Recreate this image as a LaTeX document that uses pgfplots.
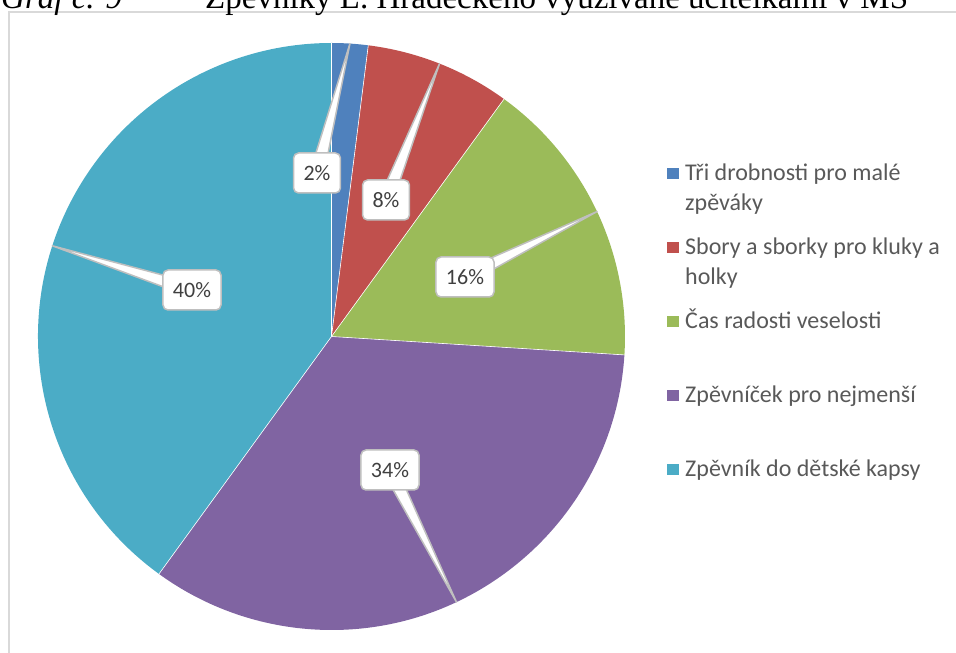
\documentclass[border=0pt]{standalone}
\usepackage{fontspec}
\setmainfont{Carlito}
\newfontfamily\titlefont{Liberation Serif}
\usepackage{pgfplots}
\pgfplotsset{compat=1.18}
\usepackage{pgfplotstable}
\usetikzlibrary{calc}

\definecolor{cA}{HTML}{4F81BD}
\definecolor{cB}{HTML}{C0504D}
\definecolor{cC}{HTML}{9BBB59}
\definecolor{cD}{HTML}{8064A2}
\definecolor{cE}{HTML}{4BACC6}
\definecolor{lbl}{HTML}{BFBFBF}
\definecolor{lbltext}{HTML}{404040}
\definecolor{legtext}{HTML}{595959}
\definecolor{bordergray}{HTML}{D9D9D9}

% percentages of the five songbooks
\pgfplotstableread[col sep=comma]{
idx,value
0,2
1,8
2,16
3,34
4,40
}\piedata

\gdef\cum{0}
\newcommand\getslice[2]{%
  \pgfplotstablegetelem{#1}{value}\of\piedata
  \pgfmathsetmacro\tmpv{\pgfplotsretval}%
  \pgfmathsetmacro\tmpS{90-3.6*\cum}%
  \pgfmathsetmacro\tmpE{90-3.6*(\cum+\tmpv)}%
  \pgfmathsetmacro\tmpM{(\tmpS+\tmpE)/2}%
  \expandafter\xdef\csname S#2\endcsname{\tmpS}%
  \expandafter\xdef\csname E#2\endcsname{\tmpE}%
  \expandafter\xdef\csname M#2\endcsname{\tmpM}%
  \expandafter\xdef\csname V#2\endcsname{\pgfplotsretval}%
  \pgfmathsetmacro\tmpc{\cum+\tmpv}\xdef\cum{\tmpc}%
}
\getslice{0}{a}
\getslice{1}{b}
\getslice{2}{c}
\getslice{3}{d}
\getslice{4}{e}

\def\R{293.5pt}
\newcommand\slice[3]{%
  \fill[#3] (axis cs:0,0) -- (axis cs:{cos(#1)},{sin(#1)}) arc[start angle=#1, end angle=#2, radius=\R] -- cycle;}
\newcommand\sep[1]{%
  \draw[white, line width=0.6pt] (axis cs:0,0) -- (axis cs:{cos(#1)},{sin(#1)});}
\newcommand\callout[4]{%
  \coordinate (B) at (axis cs:{(#1-331.5)/293.5},{(336.5-#2)/293.5});
  \coordinate (T) at (axis cs:{cos(#3)},{sin(#3)});
  \filldraw[fill=white, draw=lbl, line width=1.5pt, line join=round] ($(B)!7pt!90:(T)$) -- (T) -- ($(B)!7pt!-90:(T)$) -- cycle;
  \node[fill=white, draw=lbl, line width=1.5pt, rounded corners=5pt, minimum height=40pt, inner xsep=10pt, text=lbltext, font=\fontsize{22}{26}\selectfont] at (B) {#4};
}
\newcommand\legentry[3]{%
  \fill[#2] (axis cs:{(667-331.5)/293.5},{(336.5-(#1-5.85))/293.5}) rectangle ++(11.7pt,-11.7pt);
  \node[anchor=base west, inner sep=0pt, text=legtext] at (axis cs:{(685-331.5)/293.5},{(336.5-(#1+7.5))/293.5}) {\parbox[t]{265pt}{\raggedright\fontsize{24}{30}\selectfont #3}};
}

\begin{document}
\begin{tikzpicture}
\path[use as bounding box, clip] (0pt,0pt) rectangle (956pt,653pt);
\draw[draw=bordergray, line width=1.5pt] (9pt,-20pt) rectangle (980pt,641pt);
\node[anchor=base west, inner sep=0pt, font=\titlefont\fontsize{33}{36}\selectfont] at (1pt,644pt) {\textit{Graf č. 9}};
\node[anchor=base west, inner sep=0pt, font=\titlefont\fontsize{33}{36}\selectfont] at (205pt,644pt) {Zpěvníky L. Hradeckého využívané učitelkami v MŠ};
\begin{axis}[
  hide axis, scale only axis,
  width=587pt, height=587pt,
  xmin=-1, xmax=1, ymin=-1, ymax=1,
  at={(331.5pt,316.5pt)}, anchor=origin,
  clip=false,
]
\slice{\Sa}{\Ea}{cA}
\slice{\Sb}{\Eb}{cB}
\slice{\Sc}{\Ec}{cC}
\slice{\Sd}{\Ed}{cD}
\slice{\Se}{\Ee}{cE}
\sep{\Sa}\sep{\Sb}\sep{\Sc}\sep{\Sd}\sep{\Se}
\callout{317}{173}{\Ma}{\Va\%}
\callout{386}{200}{\Mb}{\Vb\%}
\callout{465}{277}{\Mc}{\Vc\%}
\callout{390}{470}{\Md}{\Vd\%}
\callout{192}{290}{\Me}{\Ve\%}
\legentry{173.5}{cA}{Tři drobnosti pro malé\\zpěváky}
\legentry{247.5}{cB}{Sbory a sborky pro kluky a\\holky}
\legentry{321.5}{cC}{Čas radosti veselosti}
\legentry{395.5}{cD}{Zpěvníček pro nejmenší}
\legentry{469.5}{cE}{Zpěvník do dětské kapsy}
\end{axis}
\end{tikzpicture}
\end{document}
